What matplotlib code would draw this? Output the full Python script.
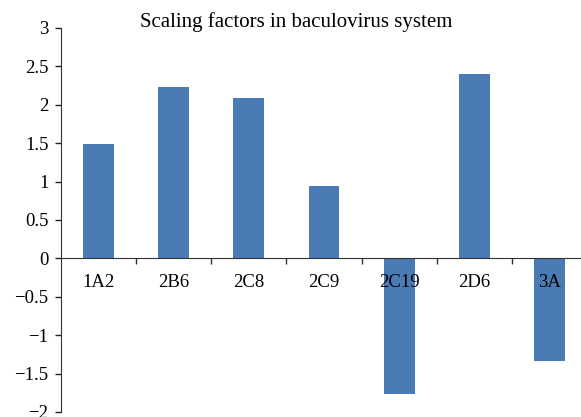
import numpy as np
import matplotlib
matplotlib.use("Agg")
import matplotlib.pyplot as plt

# enzyme isoforms and their scaling factors
enzymes = ["1A2", "2B6", "2C8", "2C9", "2C19", "2D6", "3A"]
scaling = [1.49, 2.23, 2.09, 0.94, -1.76, 2.40, -1.34]

y_ticks = [3, 2.5, 2, 1.5, 1, 0.5, 0, -0.5, -1, -1.5, -2]
y_labels = ["3", "2.5", "2", "1.5", "1", "0.5", "0",
            "\u22120.5", "\u22121", "\u22121.5", "\u22122"]

plt.rcParams["font.family"] = ["Liberation Serif", "DejaVu Serif"]
plt.rcParams["font.size"] = 13.5

fig = plt.figure(figsize=(5.81, 4.17), dpi=100)
ax = fig.add_axes([61 / 581, 1 - 412 / 417, 526 / 581, 384 / 417])

x = np.arange(len(enzymes))
ax.bar(x, scaling, width=0.41, color="#4b7bb5", zorder=1)

ax.set_xlim(-0.5, len(enzymes) - 0.5)
ax.set_ylim(-2, 3)

# y axis
ax.set_yticks(y_ticks)
ax.set_yticklabels(y_labels)
ax.tick_params(axis="y", direction="out", length=4, width=1, pad=5,
               colors="#222222", labelcolor="black")

# category axis drawn along zero
ax.spines["bottom"].set_position(("data", 0))
ax.spines["bottom"].set_color("#333333")
ax.spines["left"].set_color("#333333")
ax.spines["top"].set_visible(False)
ax.spines["right"].set_visible(False)
ax.set_xticks(x)
ax.set_xticklabels(enzymes)
ax.set_xticks(np.arange(len(enzymes)) + 0.5, minor=True)
ax.tick_params(axis="x", which="major", length=0, pad=11)
ax.tick_params(axis="x", which="minor", direction="out", length=4, width=1,
               colors="#333333")

fig.text(296 / 581, 1 - 22 / 417, "Scaling factors in baculovirus system",
         ha="center", va="center", fontsize=15)

fig.savefig("out.png", dpi=100)
